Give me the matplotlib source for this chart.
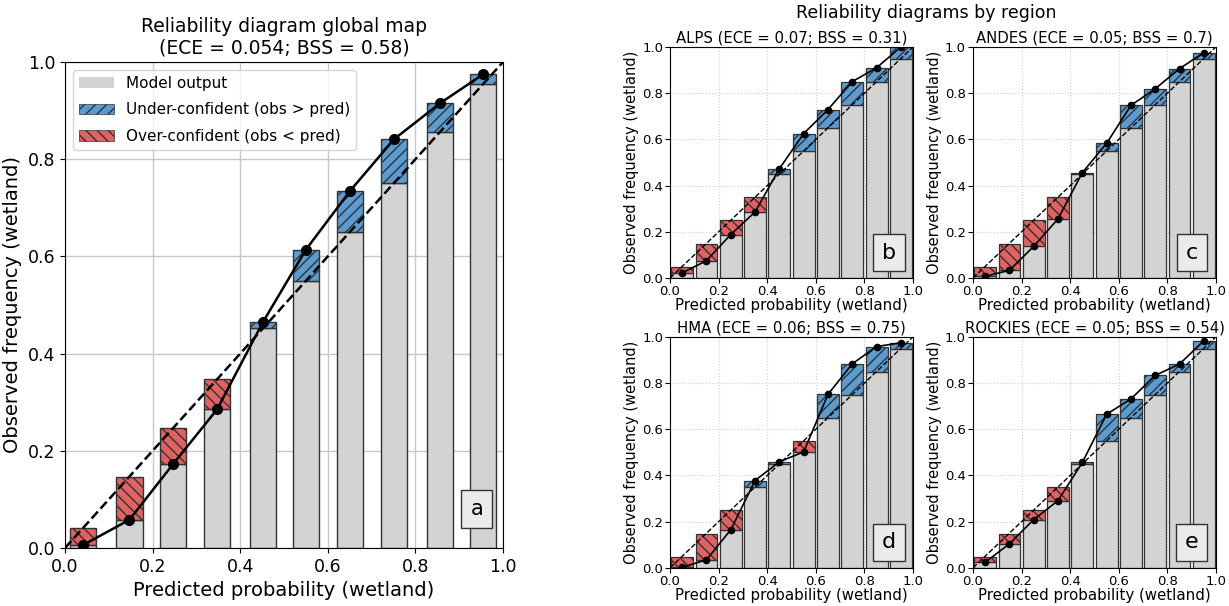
import numpy as np
import matplotlib.pyplot as plt
from matplotlib.patches import Patch

# global map: mean predicted probability and observed frequency per bin
glob_pred = [0.041, 0.147, 0.247, 0.347, 0.452, 0.550, 0.651, 0.751, 0.856, 0.955]
glob_obs = [0.006, 0.058, 0.173, 0.285, 0.465, 0.614, 0.735, 0.841, 0.915, 0.975]

# regional panels (fixed bins)
reg_pred = [0.048, 0.148, 0.25, 0.35, 0.45, 0.548, 0.648, 0.748, 0.848, 0.948]
reg_x = [0.05, 0.15, 0.25, 0.35, 0.45, 0.55, 0.65, 0.75, 0.85, 0.95]
alps_obs = [0.022, 0.075, 0.188, 0.286, 0.473, 0.625, 0.729, 0.850, 0.910, 1.0]
andes_obs = [0.007, 0.033, 0.137, 0.256, 0.456, 0.583, 0.747, 0.819, 0.906, 0.976]
hma_obs = [0.002, 0.035, 0.165, 0.378, 0.459, 0.502, 0.751, 0.883, 0.958, 0.974]
rockies_obs = [0.024, 0.104, 0.209, 0.291, 0.456, 0.665, 0.731, 0.833, 0.882, 0.983]

regions = ['ALPS (ECE = 0.07; BSS = 0.31)', 'ANDES (ECE = 0.05; BSS = 0.7)',
           'HMA (ECE = 0.06; BSS = 0.75)', 'ROCKIES (ECE = 0.05; BSS = 0.54)']
region_obs = [alps_obs, andes_obs, hma_obs, rockies_obs]
letters = ['b', 'c', 'd', 'e']

GRAY = 'lightgray'
BLUE = '#5b9bd0'
RED = '#e06262'
plt.rcParams['hatch.color'] = '#333333'


def draw(ax, x, pred, obs, width, small):
    pred = np.array(pred)
    obs = np.array(obs)
    low = np.minimum(pred, obs)
    edge = '#333333'
    lw = 0.9 if small else 1.0
    ax.bar(x, low, width, color=GRAY, edgecolor=edge, linewidth=lw, zorder=2)
    under = obs > pred
    over = ~under
    ax.bar(np.array(x)[under], (obs - pred)[under], width, bottom=pred[under],
           color=BLUE, edgecolor=edge, linewidth=lw, hatch='///', zorder=2)
    ax.bar(np.array(x)[over], (pred - obs)[over], width, bottom=obs[over],
           color=RED, edgecolor=edge, linewidth=lw, hatch='\\\\\\', zorder=2)
    ax.plot([0, 1], [0, 1], 'k--', lw=1.0 if small else 1.8, zorder=3)
    ax.plot(x, obs, 'k-', marker='o', lw=1.2 if small else 1.8,
            markersize=4.5 if small else 7, zorder=4)
    ax.set_xlim(0, 1)
    ax.set_ylim(0, 1)
    ax.set_axisbelow(True)


fig = plt.figure(figsize=(12.29, 6.06), dpi=100)

# main panel
ax = fig.add_axes([0.0529, 0.0957, 0.3564, 0.802])
ax.grid(True, color='#c8c8c8', lw=1.0)
draw(ax, glob_pred, glob_pred, glob_obs, 0.06, False)
ax.set_title('Reliability diagram global map\n(ECE = 0.054; BSS = 0.58)', fontsize=13.5)
ax.set_xlabel('Predicted probability (wetland)', fontsize=14)
ax.set_ylabel('Observed frequency (wetland)', fontsize=14)
ax.tick_params(labelsize=12.5)
handles = [Patch(facecolor=GRAY, label='Model output'),
           Patch(facecolor=BLUE, edgecolor='#333333', lw=0.5, hatch='///',
                 label='Under-confident (obs > pred)'),
           Patch(facecolor=RED, edgecolor='#333333', lw=0.5, hatch='\\\\\\',
                 label='Over-confident (obs < pred)')]
ax.legend(handles=handles, loc='upper left', fontsize=11, labelspacing=0.75,
          handlelength=2.3)
ax.text(0.94, 0.08, 'a', transform=ax.transAxes, fontsize=15, ha='center', va='center',
        bbox=dict(boxstyle='square,pad=0.45', facecolor='#ebebeb', edgecolor='#333333'), zorder=5)

# regional panels
pos = [[0.5452, 0.5413], [0.7917, 0.5413], [0.5452, 0.0630], [0.7917, 0.0630]]
for p, name, obs, let in zip(pos, regions, region_obs, letters):
    a = fig.add_axes([p[0], p[1], 0.1977, 0.3812])
    a.grid(True, color='#d0d0d0', ls=':', lw=0.8)
    draw(a, reg_x, reg_pred, obs, 0.09, True)
    a.set_title(name, fontsize=10.7, pad=3)
    a.set_xlabel('Predicted probability (wetland)', fontsize=10.8, labelpad=0)
    a.set_ylabel('Observed frequency (wetland)', fontsize=10.5, labelpad=2)
    a.tick_params(labelsize=9.5, pad=1.5)
    a.set_xticks(np.arange(0, 1.01, 0.2))
    a.set_yticks(np.arange(0, 1.01, 0.2))
    a.text(0.9, 0.11, let, transform=a.transAxes, fontsize=16, ha='center', va='center',
           bbox=dict(boxstyle='square,pad=0.4', facecolor='#ebebeb', edgecolor='#333333'), zorder=5)

fig.text(0.754, 0.978, 'Reliability diagrams by region', fontsize=12.5, ha='center', va='center')

fig.savefig('out.png', dpi=100)
